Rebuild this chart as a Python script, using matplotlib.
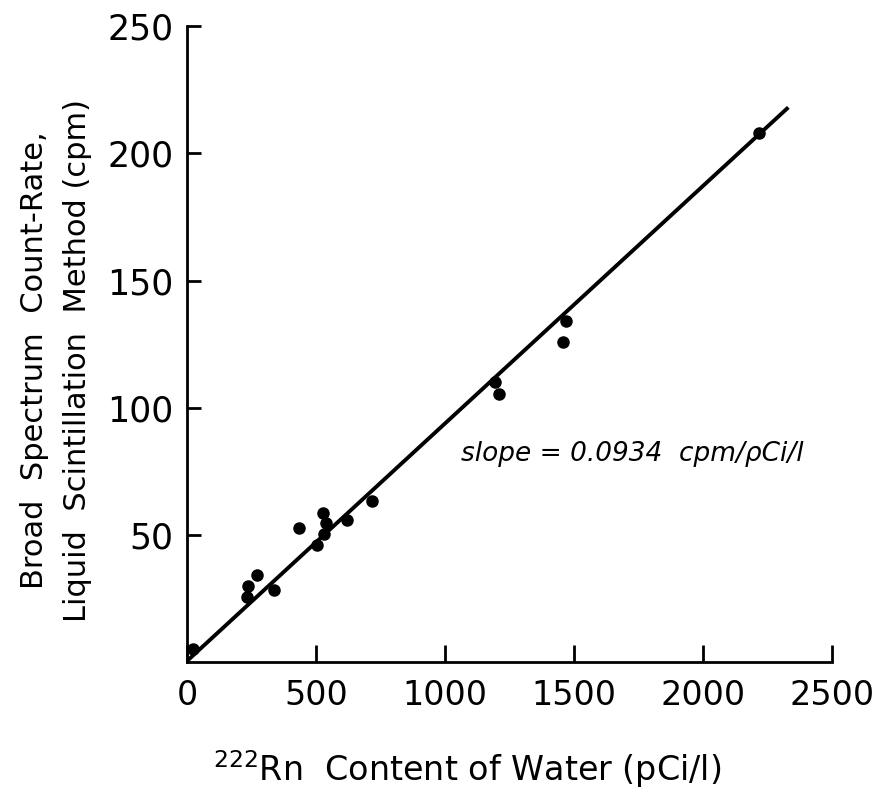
import numpy as np
import matplotlib
matplotlib.use("Agg")
import matplotlib.pyplot as plt

# Rn-222 content of water (pCi/l) vs broad spectrum count rate (cpm)
rn_content = [25, 231, 235, 273, 337, 435, 503, 531, 528, 539, 621, 717,
              1194, 1207, 1456, 1469, 2217]
count_rate = [5.3, 25.7, 29.9, 34.2, 28.6, 52.9, 46.0, 50.6, 58.8, 54.9,
              56.1, 63.4, 110.2, 105.6, 125.7, 134.0, 208.2]

slope = 0.0934
intercept = 0.5
fit_x = np.array([0, 2330])

xticks = [0, 500, 1000, 1500, 2000, 2500]
yticks = [50, 100, 150, 200, 250]

fig = plt.figure(figsize=(8.76, 7.96), dpi=100)
ax = fig.add_axes([0.2135, 0.168, 0.7365, 0.799])

# fitted line and measured points
ax.plot(fit_x, slope * fit_x + intercept, color="black", lw=2.8,
        solid_capstyle="butt", zorder=2)
ax.plot(rn_content, count_rate, "o", color="black", ms=8, zorder=3)

ax.text(1060, 82, "slope = 0.0934  cpm/\u03c1Ci/l", fontsize=19,
        style="italic", ha="left", va="center")

ax.set_xlim(0, 2500)
ax.set_ylim(0, 250)
ax.spines["top"].set_visible(False)
ax.spines["right"].set_visible(False)
ax.spines["left"].set_linewidth(2)
ax.spines["bottom"].set_linewidth(2)

ax.set_xticks(xticks)
ax.set_yticks(yticks)
ax.tick_params(axis="x", direction="in", length=12, width=2, labelsize=24, pad=12)
ax.tick_params(axis="y", direction="in", length=10, width=2, labelsize=25, pad=10)

ax.set_xlabel(r"$^{222}$Rn  Content of Water (pCi/l)", fontsize=24)
ax.xaxis.set_label_coords(0.435, -0.135)
ax.set_ylabel("Broad  Spectrum  Count-Rate,\nLiquid  Scintillation  Method (cpm)",
              fontsize=22, linespacing=1.6)
ax.yaxis.set_label_coords(-0.148, 0.475)

fig.savefig("out.png", dpi=100)
